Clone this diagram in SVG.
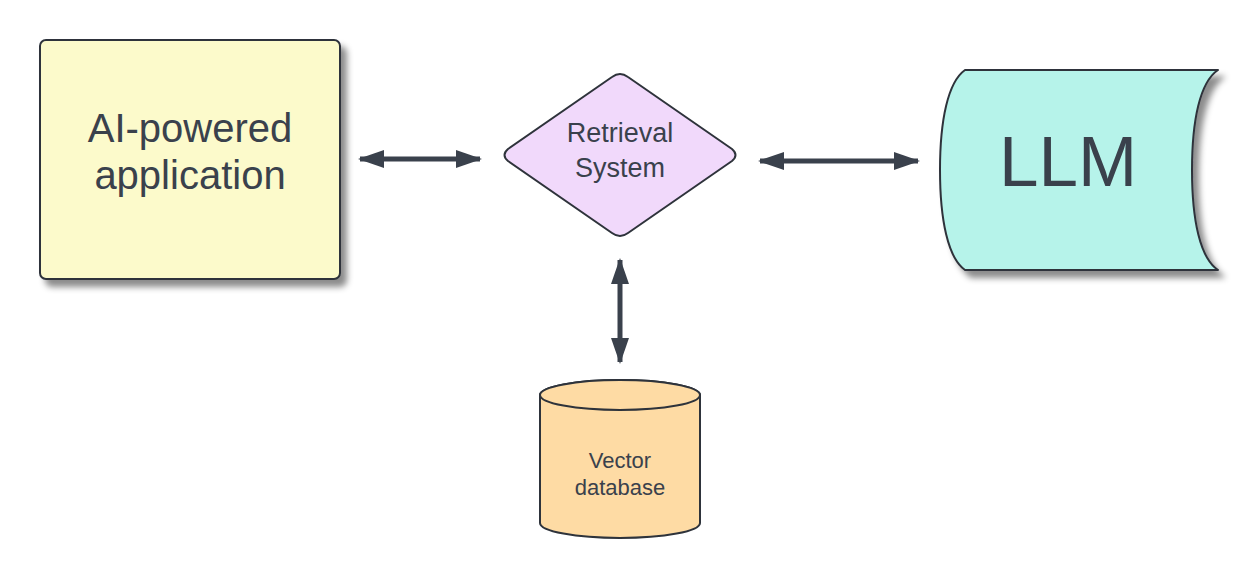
<svg xmlns="http://www.w3.org/2000/svg" width="1260" height="580" viewBox="0 0 1260 580">
<style>
.shape{stroke:#2e333b;stroke-width:2;stroke-linejoin:round}
.lbl{font-family:"Liberation Sans",Arial,sans-serif;fill:#3a414c;text-anchor:middle}
.conn{stroke:#3a414c;stroke-width:5;fill:none}
</style>
<defs>
<filter id="sh" x="-10%" y="-10%" width="130%" height="130%">
<feDropShadow dx="6" dy="7" stdDeviation="3" flood-color="#000" flood-opacity="0.45"/>
</filter>
<marker id="ah" viewBox="0 0 26 18" refX="24" refY="9" markerWidth="26" markerHeight="18" markerUnits="userSpaceOnUse" orient="auto-start-reverse">
<path d="M0,0 L26,9 L0,18 Z" fill="#3a414c"/>
</marker>
</defs>
<rect width="1260" height="580" fill="#ffffff"/>
<g id="app">
<rect class="shape" x="40" y="40" width="300" height="239" rx="6" fill="#fcfacb" filter="url(#sh)"/>
<text class="lbl" x="190" y="142" font-size="40">AI-powered</text>
<text class="lbl" x="190" y="189" font-size="40">application</text>
</g>
<g id="retrieval">
<path class="shape" d="M612,77 Q620,71 628,77 L732,149 Q739,155 732,161 L628,233 Q620,239 612,233 L508,161 Q501,155 508,149 Z" fill="#f1d9fb"/>
<text class="lbl" x="620" y="142" font-size="27">Retrieval</text>
<text class="lbl" x="620" y="177" font-size="27">System</text>
</g>
<g id="llm">
<path class="shape" d="M965,70 H1218 C1200,82 1192,120 1192,170 C1192,220 1200,258 1218,270 H965 C948,258 940,220 940,170 C940,120 948,82 965,70 Z" fill="#b6f3ea" filter="url(#sh)"/>
<text class="lbl" x="1068" y="186" font-size="71">LLM</text>
</g>
<g id="vectordb">
<path class="shape" d="M540,395 V523 A80,15 0 0 0 700,523 V395 A80,15 0 0 0 540,395 Z" fill="#fedba4"/>
<ellipse class="shape" cx="620" cy="395" rx="80" ry="15" fill="#fedba4"/>
<text class="lbl" x="620" y="468" font-size="22">Vector</text>
<text class="lbl" x="620" y="495" font-size="22">database</text>
</g>
<g id="connectors">
<line class="conn" x1="360" y1="159" x2="480" y2="159" marker-start="url(#ah)" marker-end="url(#ah)"/>
<line class="conn" x1="760" y1="161" x2="918" y2="161" marker-start="url(#ah)" marker-end="url(#ah)"/>
<line class="conn" x1="620" y1="260" x2="620" y2="362" marker-start="url(#ah)" marker-end="url(#ah)"/>
</g>
</svg>
